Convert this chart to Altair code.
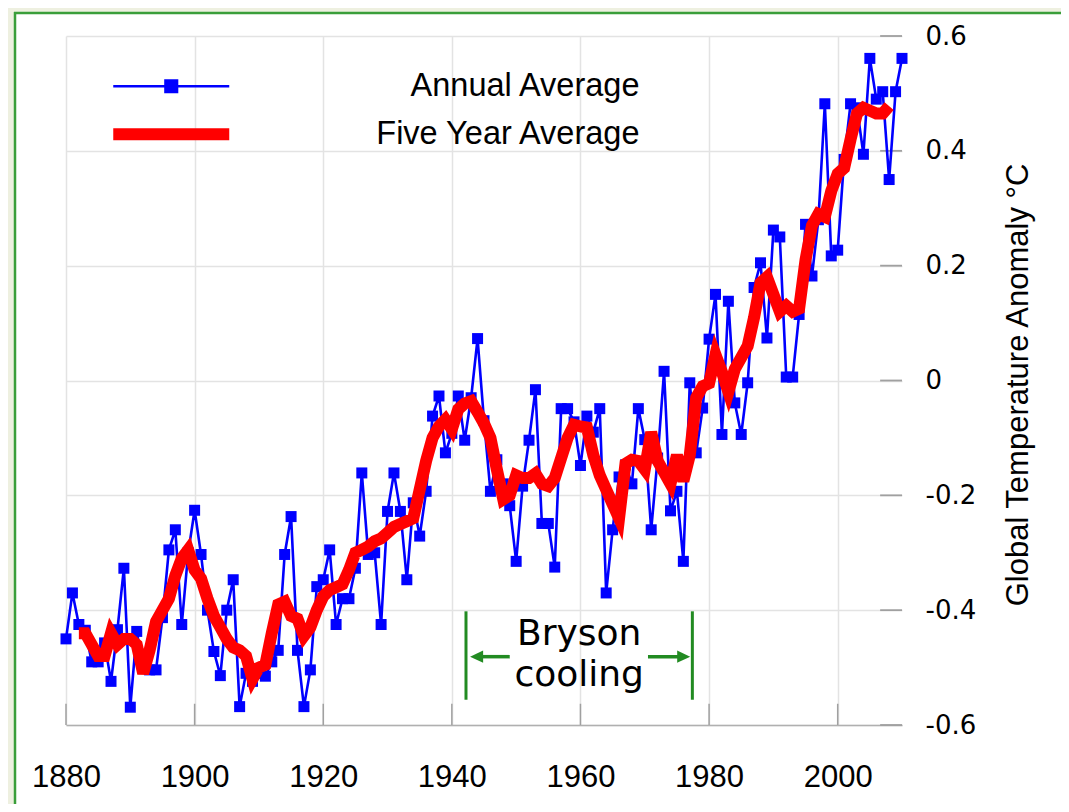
import altair as alt
import pandas as pd

# ---------------- data ----------------
years = list(range(1880, 2011))
annual = [
    -0.45, -0.37, -0.425, -0.435, -0.49, -0.49, -0.457, -0.524, -0.434, -0.327,
    -0.569, -0.437, -0.50, -0.504, -0.504, -0.413, -0.295, -0.26, -0.425, -0.30,
    -0.226, -0.303, -0.40, -0.472, -0.514, -0.40, -0.347, -0.568, -0.51, -0.524,
    -0.51, -0.515, -0.49, -0.47, -0.303, -0.237, -0.47, -0.568, -0.504, -0.359,
    -0.347, -0.295, -0.425, -0.38, -0.38, -0.327, -0.161, -0.303, -0.30, -0.425,
    -0.228, -0.161, -0.228, -0.347, -0.213, -0.271, -0.193, -0.062, -0.027, -0.126,
    -0.092, -0.027, -0.104, -0.03, 0.073, -0.07, -0.193, -0.138, -0.18, -0.218,
    -0.315, -0.184, -0.104, -0.016, -0.249, -0.249, -0.325, -0.049, -0.049, -0.072,
    -0.148, -0.062, -0.09, -0.049, -0.37, -0.26, -0.168, -0.147, -0.18, -0.049,
    -0.103, -0.26, -0.135, 0.016, -0.227, -0.193, -0.315, -0.004, -0.126, -0.048,
    0.072, 0.15, -0.094, 0.138, -0.039, -0.094, -0.004, 0.162, 0.205, 0.074,
    0.262, 0.25, 0.006, 0.006, 0.115, 0.272, 0.182, 0.28, 0.482, 0.217,
    0.227, 0.385, 0.482, 0.475, 0.394, 0.561, 0.49, 0.503, 0.35, 0.503, 0.561,
]

five_years = list(range(1882, 2009))
five_avg = [
    -0.44, -0.44, -0.46, -0.48, -0.48, -0.44, -0.46, -0.45, -0.45, -0.46,
    -0.51, -0.47, -0.42, -0.40, -0.38, -0.34, -0.31, -0.295, -0.33, -0.345,
    -0.38, -0.41, -0.43, -0.45, -0.465, -0.47, -0.48, -0.52, -0.50, -0.495,
    -0.44, -0.39, -0.385, -0.41, -0.415, -0.445, -0.43, -0.40, -0.376, -0.365,
    -0.36, -0.355, -0.33, -0.30, -0.295, -0.289, -0.28, -0.275, -0.265, -0.255,
    -0.25, -0.245, -0.24, -0.19, -0.14, -0.10, -0.08, -0.068, -0.085, -0.05,
    -0.04, -0.036, -0.055, -0.075, -0.10, -0.155, -0.207, -0.20, -0.165, -0.17,
    -0.17, -0.162, -0.18, -0.184, -0.17, -0.135, -0.10, -0.077, -0.08, -0.082,
    -0.13, -0.165, -0.19, -0.215, -0.24, -0.145, -0.138, -0.14, -0.155, -0.09,
    -0.14, -0.16, -0.18, -0.13, -0.175, -0.13, -0.03, -0.01, -0.005, 0.045,
    0.015, -0.02, 0.02, 0.04, 0.06, 0.11, 0.17, 0.18, 0.15, 0.12,
    0.13, 0.12, 0.125, 0.21, 0.27, 0.29, 0.285, 0.33, 0.36, 0.37,
    0.42, 0.465, 0.475, 0.47, 0.465, 0.465, 0.478,
]

series_names = ["Annual Average", "Five Year Average"]
series_colors = ["#0000ff", "#ff0000"]

x_ticks = [1880, 1900, 1920, 1940, 1960, 1980, 2000]
y_ticks = [-0.6, -0.4, -0.2, 0, 0.2, 0.4, 0.6]
y_labels = ["-0.6", "-0.4", "-0.2", "0", "0.2", "0.4", "0.6"]

# Bryson cooling annotation (data coordinates)
bryson_bars = [1942.2, 1977.4]
bryson_bar_low, bryson_bar_high = -0.556, -0.402
arrow_level = -0.481
arrow_shafts = [(1949.0, 1944.4), (1970.5, 1975.5)]
arrow_heads = [(1943.85, "left"), (1976.05, "right")]
bryson_text = [("Bryson", -0.460), ("cooling", -0.532)]
bryson_text_year = 1959.8

# ---------------- layout ----------------
W, H = 836, 689
PAD = {"left": 58, "top": 28, "right": 159, "bottom": 79}

grid_col = "#e3e3e3"
tick_col = "#a0a0a0"
green = "#228b22"

label_expr = ""
for v, l in zip(y_ticks, y_labels):
    label_expr += f"abs(datum.value - ({v})) < 0.01 ? '{l}' : "
label_expr += "''"

x_axis = alt.Axis(values=x_ticks, format="d", title=None, grid=True,
                  gridColor=grid_col, gridWidth=1.5, ticks=False, tickSize=0,
                  domain=True, domainColor="#b0b0b0", domainWidth=1.5,
                  labelFont="Liberation Sans", labelFontSize=31, labelColor="#000",
                  labelPadding=37, labelBaseline="top", labelFlush=False,
                  labelOverlap=False)
y_axis = alt.Axis(orient="right", values=y_ticks, labelExpr=label_expr,
                  title="Global Temperature Anomaly °C", grid=True,
                  gridColor=grid_col, gridWidth=1.5, ticks=False, tickSize=0,
                  domain=False, labelFont="DejaVu Sans", labelFontSize=26,
                  labelColor="#000", labelPadding=23, labelFlush=False,
                  labelOverlap=False,
                  titleFont="Liberation Sans", titleFontSize=31,
                  titleFontWeight="normal", titleColor="#000", titleAngle=270,
                  titleX=116, titleY=H / 2 + 4, titleAlign="center",
                  titleBaseline="middle")

x_scale = alt.Scale(domain=[1880, 2010], nice=False, zero=False)
y_scale = alt.Scale(domain=[-0.6, 0.6], nice=False, zero=False)


def X(field):
    return alt.X(field, type="quantitative", scale=x_scale, axis=x_axis)


def Y(field):
    return alt.Y(field, type="quantitative", scale=y_scale, axis=y_axis)


annual_path = "M-11.6,0L11.6,0M-1.15,-1.15L1.15,-1.15L1.15,1.15L-1.15,1.15Z"
five_path = "M-11.6,0L11.6,0"
legend_common = dict(
    orient="none", legendX=89, title=None, symbolSize=100,
    labelFont="Liberation Sans", labelFontSize=32.5, labelColor="#000",
    labelAlign="right", labelOffset=452, labelLimit=600, padding=0,
    symbolOpacity=1,
)
legend_annual = alt.Legend(legendY=34, symbolType=annual_path, symbolStrokeWidth=2.6,
                           symbolFillColor=series_colors[0],
                           symbolStrokeColor=series_colors[0], **legend_common)
legend_five = alt.Legend(legendY=82, symbolType=five_path, symbolStrokeWidth=12,
                         symbolStrokeColor=series_colors[1], **legend_common)

df_annual = pd.DataFrame({"year": years, "value": annual, "s1": series_names[0]})
df_five = pd.DataFrame({"year": five_years, "value": five_avg, "s2": series_names[1]})

# ---------------- decoration (frame) ----------------
one = alt.Data(values=[{"k": 1}])
beige = "#eef0e0"
frame_col = "#3a9e3a"
left_strip = alt.Chart(one).mark_rect(color=beige).encode(
    x=alt.value(-PAD["left"]), x2=alt.value(-52),
    y=alt.value(-PAD["top"]), y2=alt.value(H + PAD["bottom"]))
top_strip = alt.Chart(one).mark_rect(color=beige).encode(
    x=alt.value(-PAD["left"]), x2=alt.value(W + PAD["right"]),
    y=alt.value(-PAD["top"]), y2=alt.value(-24))
frame_left = alt.Chart(one).mark_rule(color=frame_col, strokeWidth=2.5).encode(
    x=alt.value(-51), y=alt.value(-24), y2=alt.value(H + PAD["bottom"]))
frame_top = alt.Chart(one).mark_rule(color=frame_col, strokeWidth=2.5).encode(
    x=alt.value(-52), x2=alt.value(W + PAD["right"]), y=alt.value(-23))

# ---------------- inward tick marks ----------------
right_ticks = alt.Chart(pd.DataFrame({"v": y_ticks, "a": 2006.6, "b": 2010})).mark_rule(
    color=tick_col, strokeWidth=1.8).encode(x=X("a"), x2="b", y=Y("v"))
bottom_ticks = alt.Chart(pd.DataFrame({"yr": x_ticks, "lo": -0.6, "hi": -0.563})).mark_rule(
    color=tick_col, strokeWidth=1.5).encode(x=X("yr"), y=Y("lo"), y2="hi")

# ---------------- series ----------------
blue_line = alt.Chart(df_annual).mark_line(strokeWidth=2.6, color=series_colors[0]).encode(
    x=X("year"), y=Y("value"))
blue_pts = alt.Chart(df_annual).mark_point(
    shape="square", filled=True, size=121, opacity=1).encode(
    x=X("year"), y=Y("value"),
    color=alt.Color("s1:N", scale=alt.Scale(domain=[series_names[0]], range=[series_colors[0]]),
                    legend=legend_annual))
red_line = alt.Chart(df_five).mark_line(
    strokeWidth=12, strokeJoin="miter", strokeMiterLimit=4, strokeCap="butt").encode(
    x=X("year"), y=Y("value"),
    color=alt.Color("s2:N", scale=alt.Scale(domain=[series_names[1]], range=[series_colors[1]]),
                    legend=legend_five))

# ---------------- Bryson annotation ----------------
bars = alt.Chart(pd.DataFrame({"yr": bryson_bars, "lo": bryson_bar_low, "hi": bryson_bar_high})).mark_rule(
    color=green, strokeWidth=3).encode(x=X("yr"), y=Y("lo"), y2="hi")
shafts = alt.Chart(pd.DataFrame({
    "a": [s[0] for s in arrow_shafts], "b": [s[1] for s in arrow_shafts],
    "lv": arrow_level})).mark_rule(color=green, strokeWidth=3.5).encode(
    x=X("a"), x2="b", y=Y("lv"))
head_left = "M-1,0L1,-0.95L1,0.95Z"
head_right = "M1,0L-1,-0.95L-1,0.95Z"
heads = alt.Chart(pd.DataFrame({
    "yr": [h[0] for h in arrow_heads], "dir": [h[1] for h in arrow_heads],
    "lv": arrow_level})).mark_point(filled=True, size=170, opacity=1, color=green).encode(
    x=X("yr"), y=Y("lv"),
    shape=alt.Shape("dir:N", scale=alt.Scale(domain=["left", "right"], range=[head_left, head_right]),
                    legend=None))
texts = alt.Chart(pd.DataFrame({
    "t": [t[0] for t in bryson_text], "lv": [t[1] for t in bryson_text],
    "yr": bryson_text_year})).mark_text(
    font="DejaVu Sans", fontSize=36, color="#000", align="center", baseline="alphabetic").encode(
    x=X("yr"), y=Y("lv"), text="t:N")

chart = alt.layer(
    left_strip, top_strip, frame_left, frame_top,
    right_ticks, bottom_ticks,
    blue_line, blue_pts, red_line,
    bars, shafts, heads, texts,
).resolve_scale(color="independent").properties(
    width=W, height=H, padding=PAD,
    autosize=alt.AutoSizeParams(type="none"),
    background="#ffffff",
).configure_view(stroke=None)

chart.save("out.html", embed_options={"renderer": "svg", "actions": False})
